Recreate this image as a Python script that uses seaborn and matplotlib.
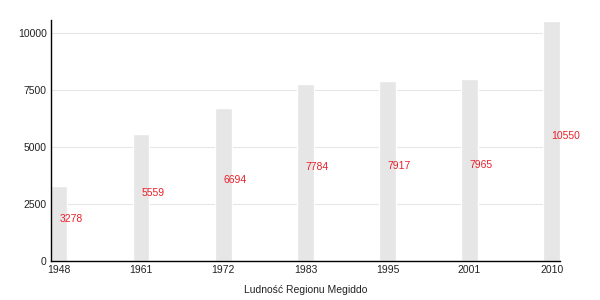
import matplotlib
matplotlib.use("Agg")
import matplotlib.pyplot as plt
import seaborn as sns
import pandas as pd

years = ["1948", "1961", "1972", "1983", "1995", "2001", "2010"]
population = [3278, 5559, 6694, 7784, 7917, 7965, 10550]
y_ticks = [0, 2500, 5000, 7500, 10000]
x_title = "Ludność Regionu Megiddo"

sns.set_theme(style="white")
plt.rcParams['font.family'] = ['Liberation Sans', 'DejaVu Sans']

df = pd.DataFrame({"year": years, "pop": population})
fig = plt.figure(figsize=(6, 3), dpi=100)
ax = fig.add_axes([0.085, 0.13, 0.848, 0.803])

ax.grid(axis="y", color="#e6e6e6", linewidth=0.8)
ax.set_axisbelow(True)
sns.barplot(data=df, x="year", y="pop", color="#e6e6e6", width=0.2,
            saturation=1, ax=ax, zorder=2)

for i, v in enumerate(population):
    ax.text(i, v / 2, str(v), color="#e8202a", fontsize=7.5,
            ha="left", va="bottom", zorder=3)

ax.set_xlim(-0.1, 6.1)
ax.set_ylim(0, 10570)
ax.set_yticks(y_ticks)
ax.set_yticklabels([str(t) for t in y_ticks])
ax.tick_params(axis="both", labelsize=7.5, length=0, pad=3, colors="#222222")
ax.set_xlabel(x_title, fontsize=7.5, color="#222222", labelpad=7)
ax.set_ylabel("")
for s in ["top", "right"]:
    ax.spines[s].set_visible(False)
for s in ["left", "bottom"]:
    ax.spines[s].set_color("black")
    ax.spines[s].set_linewidth(1.0)

fig.savefig("out.png", dpi=100)
